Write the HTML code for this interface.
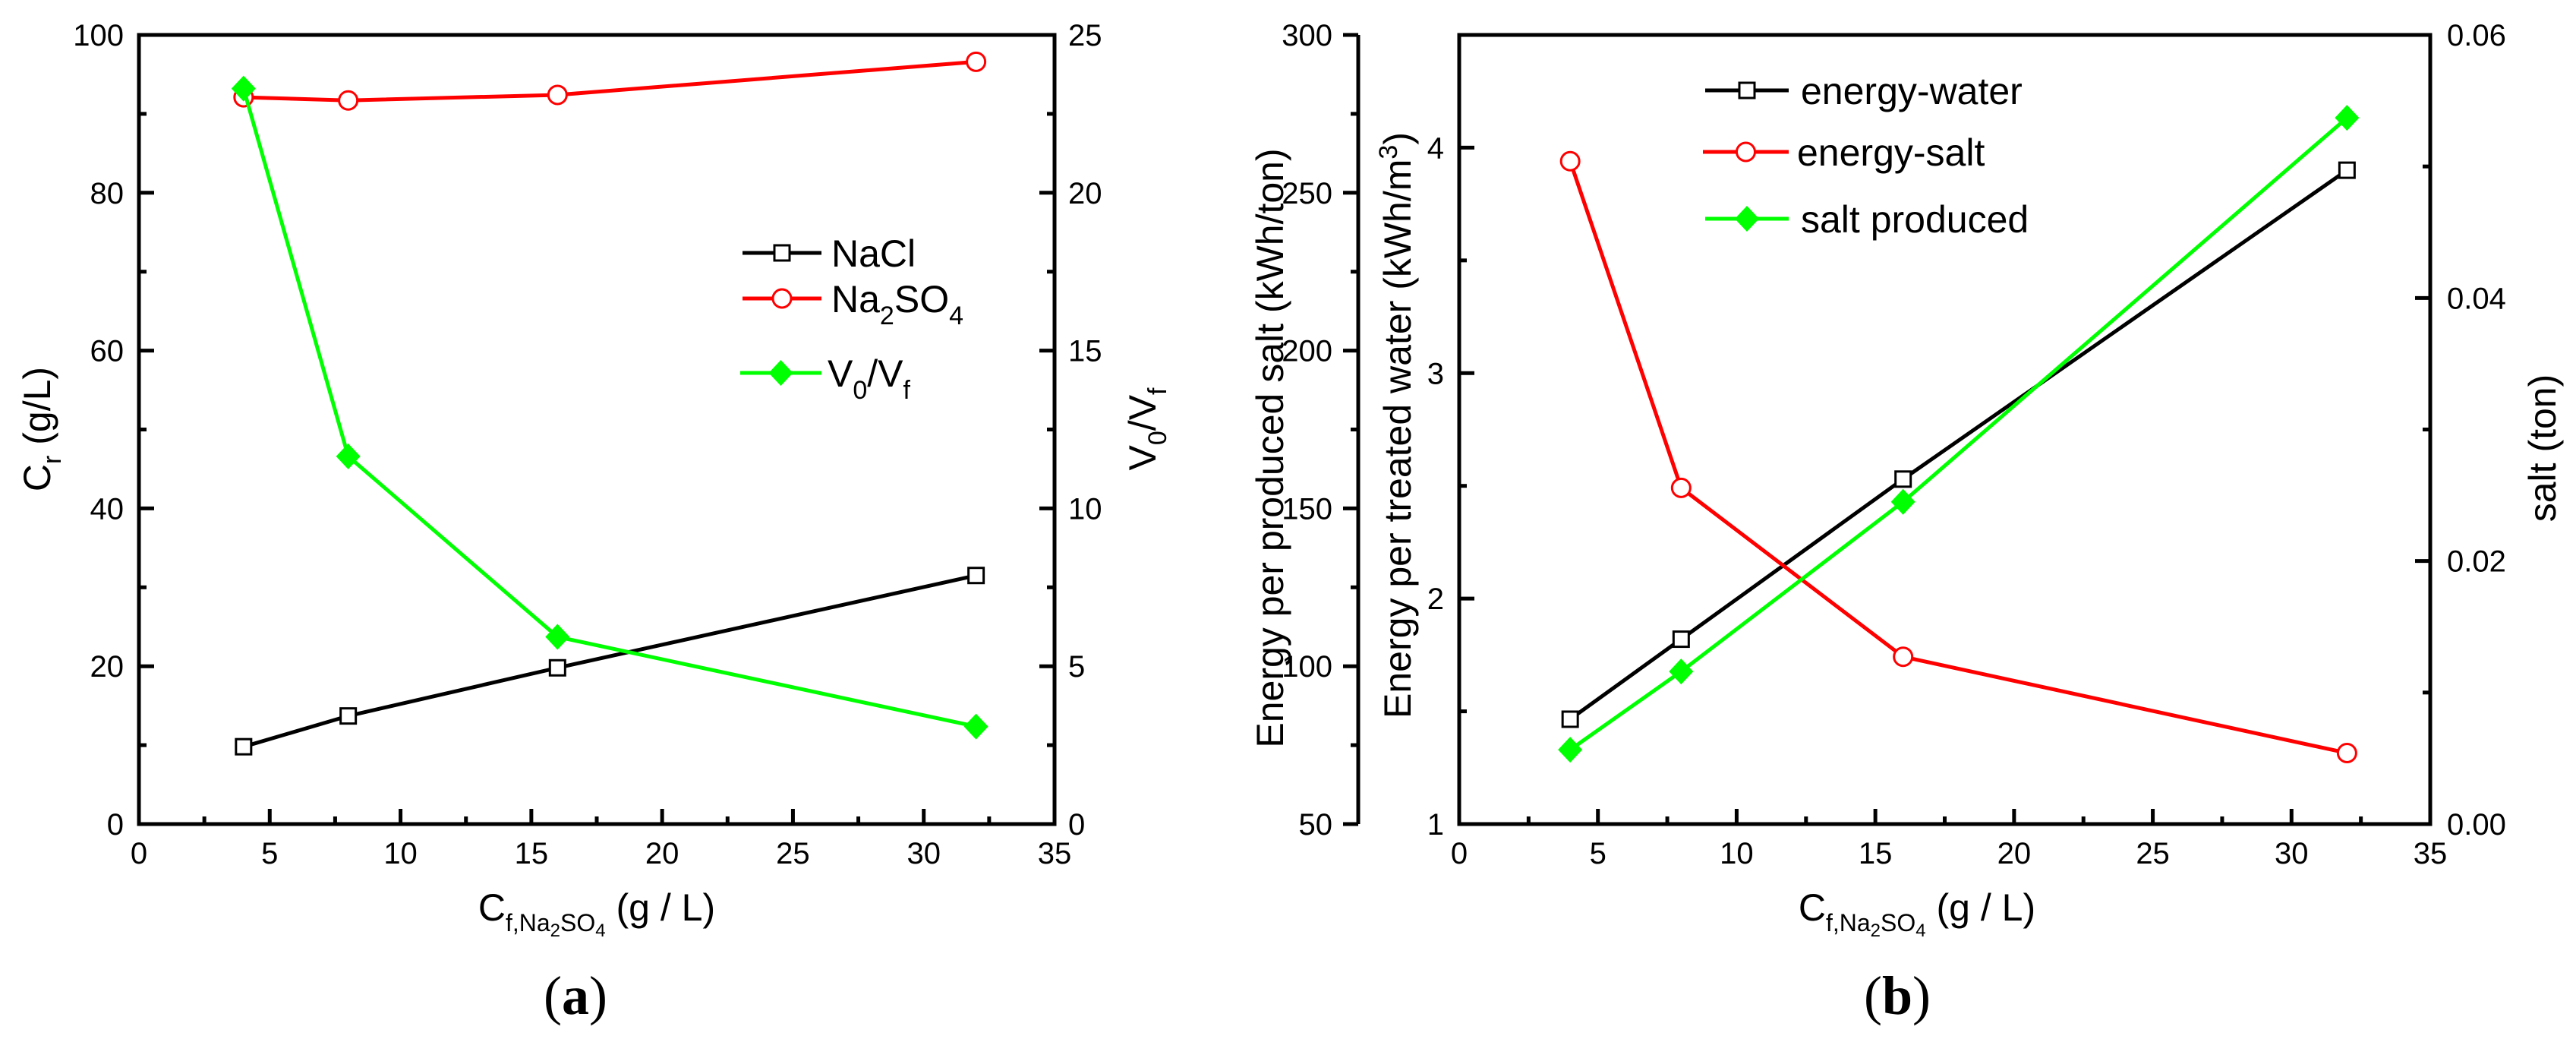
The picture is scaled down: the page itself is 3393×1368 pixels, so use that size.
<!DOCTYPE html>
<html><head><meta charset="utf-8">
<style>
html,body{margin:0;padding:0;background:#fff;}
svg{display:block;}
text{font-family:"Liberation Sans Narrow","Liberation Sans",sans-serif;fill:#000;}
.t{font-size:40px;}
.ti{font-size:50px;}
.lg{font-size:50px;}
.cap{font-family:"Liberation Serif",serif;font-size:72px;}
</style></head>
<body>
<svg id="fig" width="3393" height="1368" viewBox="0 0 3393 1368" xmlns="http://www.w3.org/2000/svg">
<g id="ga"></g>
<g id="gb"></g>
<text x="716" y="1335" class="cap">(<tspan font-weight="bold">a</tspan>)</text>
<text x="2455" y="1335" class="cap">(<tspan font-weight="bold">b</tspan>)</text>
</svg>
<script>
// ---- data ----
const xCats = [4, 8, 16, 32];
const naclVals = [9.8, 13.7, 19.8, 31.5];
const na2so4Vals = [92.1, 91.7, 92.4, 96.6];
const v0vfVals = [23.3, 11.65, 5.93, 3.09];
const xTicks = [0, 5, 10, 15, 20, 25, 30, 35];
const aLeftTicks = [0, 20, 40, 60, 80, 100];
const aRightTicks = [0, 5, 10, 15, 20, 25];
const energyWaterVals = [1.465, 1.82, 2.53, 3.90];
const energySaltVals = [260, 156.5, 103, 72.5];
const saltProducedVals = [0.00565, 0.0116, 0.0245, 0.0537];
const bOuterTicks = [50, 100, 150, 200, 250, 300];
const bInnerTicks = [1, 2, 3, 4];
const bRightTicks = ['0.00', '0.02', '0.04', '0.06'];

const NS = 'http://www.w3.org/2000/svg';
function mk(parent, tag, attrs, txt) {
  const e = document.createElementNS(NS, tag);
  for (const k in attrs) e.setAttribute(k, attrs[k]);
  if (txt !== undefined) e.textContent = txt;
  parent.appendChild(e);
  return e;
}
function line(p, x1, y1, x2, y2, w, c) {
  return mk(p, 'line', {x1: x1, y1: y1, x2: x2, y2: y2, stroke: c || '#000', 'stroke-width': w || 5});
}
function marker(p, type, x, y, color) {
  let e;
  if (type === 'sq') e = mk(p, 'rect', {x: x - 10, y: y - 10, width: 20, height: 20, fill: '#fff', stroke: '#000', 'stroke-width': 3});
  else if (type === 'ci') e = mk(p, 'circle', {cx: x, cy: y, r: 12, fill: '#fff', stroke: color, 'stroke-width': 3});
  else e = mk(p, 'polygon', {points: `${x},${y - 17} ${x + 16},${y} ${x},${y + 17} ${x - 16},${y}`, fill: color});
  return e;
}
function series(p, name, xs, ys, xf, yf, color, type) {
  const g = mk(p, 'g', {});
  
  
  const pts = xs.map((v, i) => xf(v) + ',' + yf(ys[i])).join(' ');
  mk(g, 'polyline', {points: pts, fill: 'none', stroke: color, 'stroke-width': 5});
  xs.forEach((v, i) => {
    const m = marker(g, type, xf(v), yf(ys[i]), color);
    
    
  });
}
function legend(p, name, x1, x2, y, color, type, tx, label) {
  const g = mk(p, 'g', {});
  
  
  line(g, x1, y, x2, y, 5, color);
  marker(g, type, (x1 + x2) / 2, y, color);
  const t = mk(g, 'text', {x: tx, y: y + 18, class: 'lg'});
  t.innerHTML = label;
}
function xAxis(g, L, R, B, xf) {
  xTicks.forEach(v => {
    const x = xf(v);
    line(g, x, B, x, B - 20, 5);
    if (v < 35) line(g, xf(v + 2.5), B, xf(v + 2.5), B - 10, 5);
    const t = mk(g, 'text', {x: x, y: B + 52, class: 't', 'text-anchor': 'middle'}, v);
    
    
  });
}
const XT = 'C<tspan font-size="32" dy="14">f,Na</tspan><tspan font-size="24" dy="7">2</tspan><tspan font-size="32" dy="-7">SO</tspan><tspan font-size="24" dy="7">4</tspan><tspan dy="-21"> (g / L)</tspan>';

// ---- chart a ----
(function () {
  const g = document.getElementById('ga');
  const L = 183, R = 1389, T = 46, B = 1085;
  const xf = v => L + (v / 35) * (R - L);
  const yl = v => B - (v / 100) * (B - T);
  const yr = v => B - (v / 25) * (B - T);
  mk(g, 'rect', {x: L, y: T, width: R - L, height: B - T, fill: 'none', stroke: '#000', 'stroke-width': 5});
  xAxis(g, L, R, B, xf);
  aLeftTicks.forEach(v => {
    const y = yl(v);
    line(g, L, y, L + 20, y, 5);
    if (v < 100) line(g, L, yl(v + 10), L + 10, yl(v + 10), 5);
    const t = mk(g, 'text', {x: L - 20, y: y + 14, class: 't', 'text-anchor': 'end'}, v);
    
    
  });
  aRightTicks.forEach(v => {
    const y = yr(v);
    line(g, R, y, R - 20, y, 5);
    if (v < 25) line(g, R, yr(v + 2.5), R - 10, yr(v + 2.5), 5);
    const t = mk(g, 'text', {x: R + 18, y: y + 14, class: 't'}, v);
    
    
  });
  series(g, 'nacl', xCats, naclVals, xf, yl, '#000', 'sq');
  series(g, 'na2so4', xCats, na2so4Vals, xf, yl, '#ff0000', 'ci');
  series(g, 'v0-vf', xCats, v0vfVals, xf, yr, '#00ff00', 'di');
  legend(g, 'nacl', 978, 1082, 333, '#000', 'sq', 1095, 'NaCl');
  legend(g, 'na2so4', 978, 1082, 393, '#ff0000', 'ci', 1095, 'Na<tspan font-size="34" dy="16">2</tspan><tspan dy="-16">SO</tspan><tspan font-size="34" dy="16">4</tspan>');
  legend(g, 'v0-vf', 975, 1082, 491, '#00ff00', 'di', 1090, 'V<tspan font-size="34" dy="16">0</tspan><tspan dy="-16">/V</tspan><tspan font-size="34" dy="16">f</tspan>');
  const yt = mk(g, 'text', {x: 0, y: 0, class: 'ti', transform: 'translate(66,565) rotate(-90)', 'text-anchor': 'middle'});
  yt.innerHTML = 'C<tspan font-size="34" dy="14">r</tspan><tspan dy="-14"> (g/L)</tspan>';
  
  
  const yt2 = mk(g, 'text', {x: 0, y: 0, class: 'ti', transform: 'translate(1522,565) rotate(-90)', 'text-anchor': 'middle'});
  yt2.innerHTML = 'V<tspan font-size="34" dy="14">0</tspan><tspan dy="-14">/V</tspan><tspan font-size="34" dy="14">f</tspan>';
  
  
  const xt = mk(g, 'text', {x: 786, y: 1212, class: 'ti', 'text-anchor': 'middle'});
  xt.innerHTML = XT;
  
  
})();

// ---- chart b ----
(function () {
  const g = document.getElementById('gb');
  const L = 1922, R = 3201, T = 46, B = 1085, OL = 1789;
  const xf = v => L + (v / 35) * (R - L);
  const yIn = v => B - ((v - 1) / 3.5) * (B - T);
  const yOut = v => B - ((v - 50) / 250) * (B - T);
  const ySalt = v => B - (v / 0.06) * (B - T);
  mk(g, 'rect', {x: L, y: T, width: R - L, height: B - T, fill: 'none', stroke: '#000', 'stroke-width': 5});
  line(g, OL, T, OL, B, 5);
  xAxis(g, L, R, B, xf);
  bOuterTicks.forEach(v => {
    const y = yOut(v);
    line(g, OL, y, OL - 20, y, 5);
    if (v < 300) line(g, OL, yOut(v + 25), OL - 10, yOut(v + 25), 5);
    const t = mk(g, 'text', {x: OL - 34, y: y + 14, class: 't', 'text-anchor': 'end'}, v);
    
    
  });
  bInnerTicks.forEach(v => {
    const y = yIn(v);
    line(g, L, y, L + 20, y, 5);
    line(g, L, yIn(v + 0.5), L + 10, yIn(v + 0.5), 5);
    const t = mk(g, 'text', {x: L - 20, y: y + 14, class: 't', 'text-anchor': 'end'}, v);
    
    
  });
  for (let i = 0; i <= 6; i++) {
    const v = i * 0.01;
    line(g, R, ySalt(v), R - (i % 2 === 0 ? 20 : 10), ySalt(v), 5);
  }
  bRightTicks.forEach(s => {
    const t = mk(g, 'text', {x: R + 22, y: ySalt(parseFloat(s)) + 14, class: 't'}, s);
    
    
  });
  series(g, 'energy-water', xCats, energyWaterVals, xf, yIn, '#000', 'sq');
  series(g, 'energy-salt', xCats, energySaltVals, xf, yOut, '#ff0000', 'ci');
  series(g, 'salt-produced', xCats, saltProducedVals, xf, ySalt, '#00ff00', 'di');
  legend(g, 'energy-water', 2246, 2356, 119, '#000', 'sq', 2372, 'energy-water');
  legend(g, 'energy-salt', 2243, 2356, 200, '#ff0000', 'ci', 2367, 'energy-salt');
  legend(g, 'salt-produced', 2246, 2356, 288, '#00ff00', 'di', 2372, 'salt produced');
  const t1 = mk(g, 'text', {x: 0, y: 0, class: 'ti', transform: 'translate(1690,590) rotate(-90)', 'text-anchor': 'middle'}, 'Energy per produced salt (kWh/ton)');
  
  
  const t2 = mk(g, 'text', {x: 0, y: 0, class: 'ti', transform: 'translate(1858,560) rotate(-90)', 'text-anchor': 'middle'});
  t2.innerHTML = 'Energy per treated water (kWh/m<tspan font-size="34" dy="-18">3</tspan><tspan dy="18">)</tspan>';
  
  
  const t3 = mk(g, 'text', {x: 0, y: 0, class: 'ti', transform: 'translate(3366,590) rotate(-90)', 'text-anchor': 'middle'}, 'salt (ton)');
  
  
  const xt = mk(g, 'text', {x: 2525, y: 1212, class: 'ti', 'text-anchor': 'middle'});
  xt.innerHTML = XT;
  
  
})();
</script>
</body></html>
